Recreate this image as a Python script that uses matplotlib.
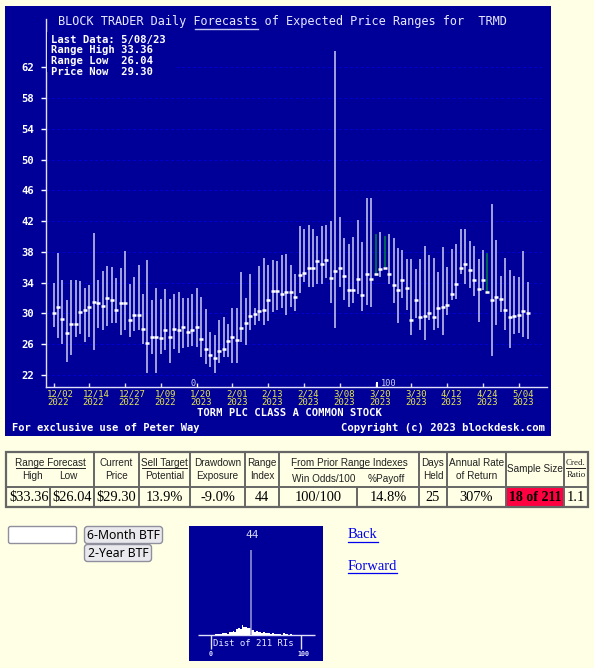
import matplotlib
matplotlib.use('Agg')
import matplotlib.pyplot as plt
from matplotlib.patches import Rectangle, FancyBboxPatch
import numpy as np

W, H = 594, 668
PAGE = '#ffffe6'
NAVY = '#000099'
GRID = '#0000dd'
BAR = '#c6c6f0'
GREEN = '#008040'
MONO = 'DejaVu Sans Mono'

# Data
highs = [34.0, 37.9, 34.3, 31.7, 34.4, 34.4, 34.2, 33.3, 33.7, 40.5, 34.3, 35.5, 36.2, 36.1, 34.6, 35.9,
         38.1, 33.9, 34.8, 36.3, 32.6, 36.9, 31.7, 33.3, 31.9, 33.2, 31.9, 32.6, 32.8, 32.0, 32.0, 32.6,
         33.3, 32.1, 30.6, 27.6, 27.2, 29.2, 29.5, 28.6, 30.7, 30.7, 35.4, 32.0, 35.1, 30.7, 36.2, 37.2,
         36.3, 37.0, 36.8, 37.6, 37.7, 36.3, 35.2, 41.4, 41.0, 41.5, 41.0, 40.1, 41.4, 41.5, 42.0, 64.1,
         42.5, 39.8, 39.1, 39.9, 42.1, 39.3, 45.0, 45.0, 40.3, 40.6, 40.1, 40.3, 39.8, 38.5, 38.3, 37.1,
         37.1, 35.8, 37.1, 38.8, 37.6, 37.2, 35.4, 38.6, 36.0, 38.4, 39.0, 41.0, 41.0, 39.4, 38.8, 37.1,
         38.2, 37.9, 44.2, 39.5, 34.9, 37.2, 35.6, 34.9, 34.8, 38.1, 34.1]
lows = [28.2, 26.8, 26.0, 23.7, 24.6, 27.0, 27.3, 26.3, 27.0, 25.2, 28.1, 27.9, 28.4, 28.8, 28.8, 27.2,
        27.9, 27.0, 27.7, 27.8, 26.0, 22.2, 24.7, 22.2, 24.7, 25.2, 23.6, 25.4, 24.9, 25.5, 25.6, 25.8,
        25.7, 24.4, 23.4, 23.0, 22.2, 23.6, 24.3, 24.4, 23.6, 23.6, 26.3, 25.9, 27.8, 28.5, 29.0, 28.5,
        29.0, 30.2, 30.5, 30.7, 29.8, 30.9, 30.3, 32.7, 34.1, 33.4, 33.5, 33.9, 33.9, 34.6, 31.4, 28.1,
        33.5, 31.7, 30.9, 31.3, 32.5, 30.3, 31.1, 30.9, 35.1, 34.8, 36.0, 33.8, 31.4, 28.8, 32.0, 30.5,
        27.2, 29.4, 27.8, 26.6, 29.1, 27.8, 28.1, 27.2, 29.8, 31.7, 31.9, 35.1, 33.8, 33.3, 32.3, 28.9,
        33.1, 32.8, 24.5, 28.5, 30.2, 27.8, 25.5, 27.3, 27.5, 27.0, 26.7]
mids = [30.0, 30.8, 29.3, 27.4, 28.6, 28.6, 30.2, 30.4, 30.9, 31.5, 31.4, 31.0, 32.0, 31.8, 30.4, 31.4,
        31.3, 29.2, 29.8, 29.8, 28.0, 26.2, 26.9, 26.9, 26.8, 27.8, 26.9, 28.0, 27.8, 28.2, 27.6, 27.8,
        28.3, 26.7, 25.4, 24.6, 24.2, 25.1, 25.4, 26.4, 27.0, 26.6, 28.1, 28.8, 29.7, 29.9, 30.3, 30.4,
        31.7, 32.9, 32.9, 32.6, 32.8, 32.8, 32.1, 35.0, 35.3, 35.9, 35.9, 36.8, 36.5, 37.0, 34.6, 35.5,
        35.9, 34.9, 33.1, 33.0, 34.5, 32.4, 35.1, 34.5, 35.1, 35.8, 35.9, 35.1, 33.7, 33.1, 34.4, 33.3,
        29.2, 31.8, 29.5, 29.7, 30.1, 29.5, 30.7, 30.9, 31.1, 32.6, 33.8, 35.9, 36.5, 35.6, 34.4, 33.2,
        34.4, 32.8, 31.7, 32.2, 31.9, 30.4, 29.5, 29.7, 29.8, 30.3, 30.0]
green_bars = [72, 74, 97]
y_ticks = [22, 26, 30, 34, 38, 42, 46, 50, 54, 58, 62]
x_tick_pos = [0, 8, 16, 24, 32, 40, 48, 56, 64, 72, 80, 88, 96, 104]
x_tick_dates = ['12/02', '12/14', '12/27', '1/09', '1/20', '2/01', '2/13', '2/24', '3/08', '3/20',
                '3/30', '4/12', '4/24', '5/04']
x_tick_years = ['2022'] * 4 + ['2023'] * 10

info_lines = ['Last Data: 5/08/23', 'Range High 33.36', 'Range Low  26.04', 'Price Now  29.30']

col_edges = [6, 94, 139, 190, 245, 279, 419, 447, 506, 564, 588]
table_heads = [['Current', 'Price'], ['', 'Potential'], ['Drawdown', 'Exposure'], ['Range', 'Index']]
table_values = ['$33.36', '$26.04', '$29.30', '13.9%', '-9.0%', '44', '100/100', '14.8%', '25', '307%', '18 of 211', '1.1']
value_x = [29, 72, 116.5, 164.5, 217.5, 262, 318, 388, 433, 476.5, 535, 576]

dist_counts = [0, 0, 1, 1, 1, 1, 2, 2, 2, 1, 3, 3, 4, 3, 6, 7, 6, 10, 8, 8, 7, 7, 5, 5, 3, 4, 3, 3, 2, 3, 2, 2,
               2, 1, 2, 1, 1, 1, 1, 0, 2, 1, 1, 0, 1, 0]
dist_edges = np.arange(len(dist_counts)) * 2


def px_axes(fig, x0, y0, x1, y1):
    return fig.add_axes([x0 / W, 1 - y1 / H, (x1 - x0) / W, (y1 - y0) / H])


def layer(z):
    a = fig.add_axes([0, 0, 1, 1])
    a.set_xlim(0, W)
    a.set_ylim(H, 0)
    a.axis('off')
    a.set_zorder(z)
    return a


fig = plt.figure(figsize=(W / 100, H / 100), dpi=100, facecolor=PAGE)

# blue panels sit below the charts, all other page furniture above them
back = layer(0)
back.add_patch(Rectangle((5, 6), 546, 430, fc=NAVY, ec='none'))
back.add_patch(Rectangle((189, 526), 134, 135, fc=NAVY, ec='none'))
page = layer(5)

# main chart
ax = px_axes(fig, 45.5, 19, 547, 387)
ax.set_zorder(1)
ax.patch.set_alpha(0)
ax.set_xlim(-1.79, 110.3)
ax.set_ylim(20.44, 68.3)
for s in ['top', 'right']:
    ax.spines[s].set_visible(False)
for s in ['left', 'bottom']:
    ax.spines[s].set_color('#e0e0f8')
    ax.spines[s].set_linewidth(1.0)
ax.set_yticks(y_ticks)
ax.set_yticklabels(y_ticks, family=MONO, fontsize=7.6, color='white', fontweight='bold')
ax.tick_params(axis='y', color='white', length=3.5, width=1, pad=4.5)
ax.set_xticks(x_tick_pos)
ax.set_xticklabels([])
ax.tick_params(axis='x', direction='in', color='#e0e0f8', length=3, width=1)
ax.set_axisbelow(True)
ax.hlines(y_ticks, -1.79, 109, color=GRID, lw=0.6, linestyle=(0, (3.5, 3)), zorder=1)

x = np.arange(len(mids))
bar_colors = [GREEN if i in green_bars else BAR for i in x]
ax.vlines(x, lows, highs, colors=bar_colors, lw=1.15, zorder=2)
ax.plot(x, mids, ls='none', marker='_', ms=3.5, mew=1.8, color='white', zorder=3)

for pos, d, yr in zip(x_tick_pos, x_tick_dates, x_tick_years):
    px = 53.5 + 4.475 * pos - 6.5
    page.text(px, 398, d + '\n' + yr, family=MONO, fontsize=6.5, color='#e8e850', ha='left', va='center',
              linespacing=0.88)

# title and notes
page.text(58, 21, 'BLOCK TRADER Daily Forecasts of Expected Price Ranges for  TRMD', family=MONO,
          fontsize=8.55, color='#e8e8ff', ha='left', va='center')
page.plot([195, 258], [29, 29], color='#c6c6f0', lw=1)
page.add_patch(Rectangle((46.5, 32), 129, 40, fc=NAVY, ec='none', zorder=1))
for i, line in enumerate(info_lines):
    page.text(51, 39.5 + i * 10.7, line, family=MONO, fontsize=7.6, color='white', fontweight='bold',
              ha='left', va='center', zorder=4)
page.text(289, 413, 'TORM PLC CLASS A COMMON STOCK', family=MONO, fontsize=7.6, color='white', fontweight='bold',
          ha='center', va='center')
page.text(12, 428, 'For exclusive use of Peter Way', family=MONO, fontsize=7.5, color='white', fontweight='bold',
          ha='left', va='center')
page.text(545, 428, 'Copyright (c) 2023 blockdesk.com', family=MONO, fontsize=7.6, color='white', fontweight='bold',
          ha='right', va='center')
page.text(193, 383.5, '0', family=MONO, fontsize=6.2, color='#d0d0f0', ha='center', va='center')
page.text(389, 383.5, '100', family=MONO, fontsize=6.2, color='#d0d0f0', ha='center', va='center')
page.add_patch(Rectangle((376, 382), 2, 5, fc='white', ec='none'))
page.add_patch(Rectangle((196.5, 384), 1.2, 3, fc='white', ec='none'))

# table
BORDER = '#666666'
TS = 'Liberation Sans'
TR = 'Liberation Serif'
page.add_patch(Rectangle((506, 487), 58, 20, fc='#ff0040', ec='none'))
page.add_patch(Rectangle((6, 452), 582, 55, fc='none', ec=BORDER, lw=1.6))
page.hlines(487, 6, 588, color=BORDER, lw=1.4)
page.vlines(col_edges[1:-1], 452, 507, color=BORDER, lw=1.4)
page.vlines([50, 357], 487, 507, color=BORDER, lw=1.4)


def head(xc, yc, s, size=7.2, family=TS, underline=None):
    page.text(xc, yc, s, family=family, fontsize=size, color='#222222', ha='center', va='center')
    if underline:
        page.plot(underline, [yc + 5, yc + 5], color='#222222', lw=0.7)


head(50, 463, 'Range Forecast', underline=[16, 85])
head(32, 476, 'High')
head(68, 476, 'Low')
for i, lines in enumerate(table_heads):
    xc = (col_edges[i + 1] + col_edges[i + 2]) / 2
    head(xc, 463, lines[0])
    head(xc, 476, lines[1])
head(164.5, 463, 'Sell Target', underline=[142, 187])
head(349, 463, 'From Prior Range Indexes', underline=[294, 404])
head(324, 479, 'Win Odds/100')
head(386, 479, '%Payoff')
head(433, 463, 'Days')
head(433, 476, 'Held')
head(476.5, 463, 'Annual Rate')
head(476.5, 476, 'of Return')
head(535, 469, 'Sample Size')
head(576, 463, 'Cred.', size=6.4, family=TR, underline=[566, 585])
head(576, 475, 'Ratio', size=6.4, family=TR)
for xc, s in zip(value_x, table_values):
    bold = s == '18 of 211'
    page.text(xc, 497.5, s, family=TR, fontsize=10.4 if not bold else 10, color='black',
              fontweight='bold' if bold else 'normal', ha='center', va='center')

# form controls
page.add_patch(FancyBboxPatch((8.5, 526.5), 68, 17, boxstyle='round,pad=0,rounding_size=2', fc='white', ec='#8f8f9d', lw=1))
page.add_patch(FancyBboxPatch((84.5, 526.5), 78, 17, boxstyle='round,pad=0,rounding_size=3', fc='#e9e9ed', ec='#8f8f9d', lw=1))
page.add_patch(FancyBboxPatch((84.5, 544.5), 67, 17, boxstyle='round,pad=0,rounding_size=3', fc='#e9e9ed', ec='#8f8f9d', lw=1))
page.text(123.5, 535.5, '6-Month BTF', family='Noto Sans', fontsize=8.8, color='black', ha='center', va='center')
page.text(118, 553.5, '2-Year BTF', family='Noto Sans', fontsize=8.8, color='black', ha='center', va='center')

# links
page.text(348, 535, 'Back', family=TR, fontsize=10.5, color='#0000ee', ha='left', va='center')
page.plot([348, 378], [542, 542], color='#0000ee', lw=0.9)
page.text(348, 566, 'Forward', family=TR, fontsize=10.5, color='#0000ee', ha='left', va='center')
page.plot([348, 397], [573, 573], color='#0000ee', lw=0.9)

# small distribution chart, RI 0..100 spans 211..301 px
dist = px_axes(fig, 211, 550, 301, 635)
dist.patch.set_alpha(0)
dist.axis('off')
dist.set_xlim(0, 100)
dist.set_ylim(0, 85)
dist.bar(dist_edges, dist_counts, width=2, align='edge', color='white', lw=0)
dist.set_zorder(6)
dist.vlines(44, 0, 85, color='#9a9ad8', lw=1.1)
page.text(252.5, 535, '44', family=MONO, fontsize=8, color='#d8d8f0', ha='center', va='center')
page.hlines(635, 198, 315, color='#e0e0f8', lw=1.0)
page.vlines([211, 301], 635, 649, color='#e0e0f8', lw=1)
page.text(213, 643, 'Dist of 211 RIs', family=MONO, fontsize=6.5, color='#e8e8ff', ha='left', va='center')
page.text(210.5, 654, '0', family=MONO, fontsize=4.8, color='#e8e8ff', ha='center', va='center', fontweight='bold')
page.text(303, 654, '100', family=MONO, fontsize=4.8, color='#e8e8ff', ha='center', va='center', fontweight='bold')

fig.savefig('out.png', dpi=100, facecolor=PAGE)
